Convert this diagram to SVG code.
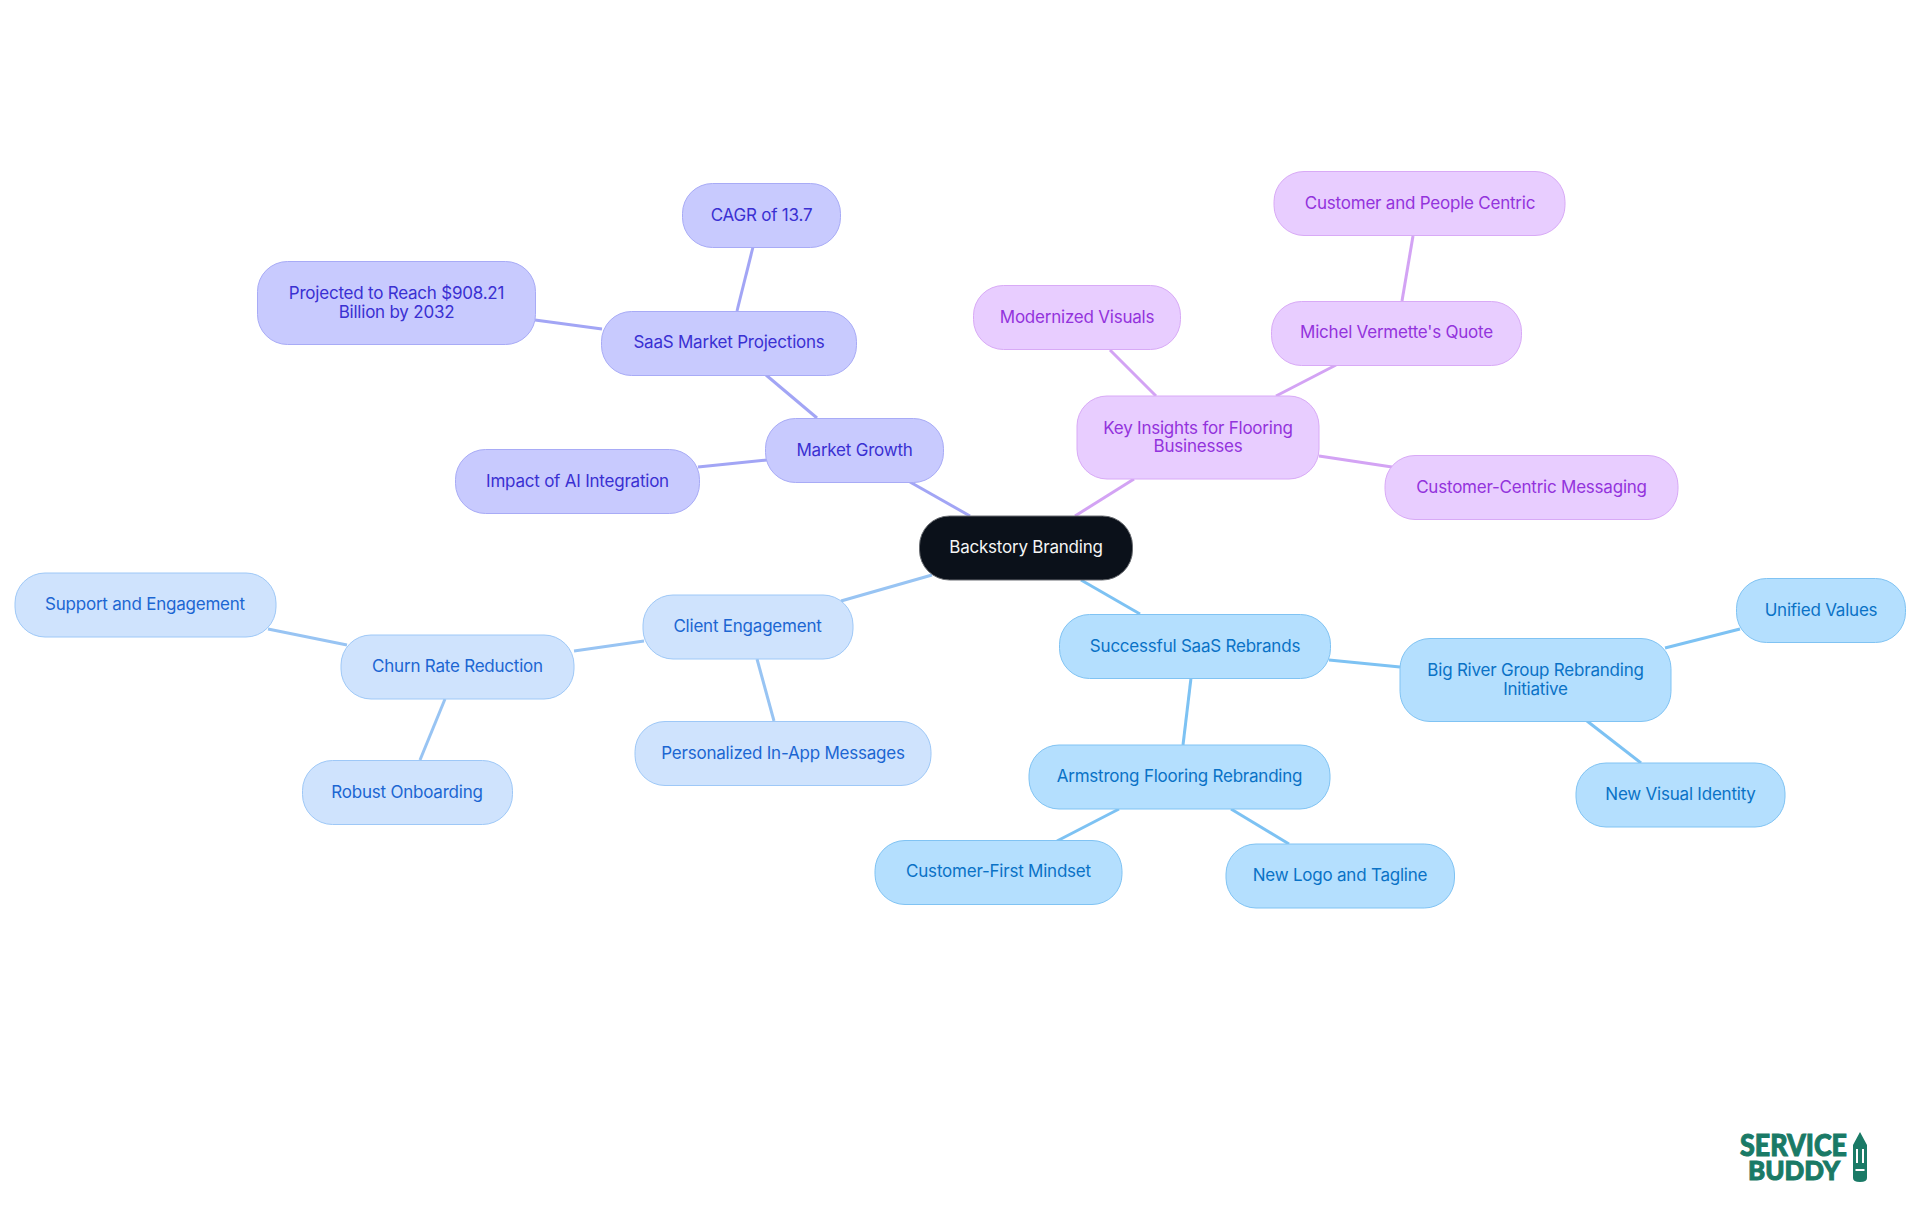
<svg xmlns="http://www.w3.org/2000/svg" width="1920" height="1215" viewBox="0 0 1920 1215">
<style>
text{font-family:Inter,"Noto Sans","Liberation Sans",sans-serif;font-size:17px;letter-spacing:-.22px;text-anchor:middle;dominant-baseline:central}
.node{stroke-width:1}
#connectors line{stroke-width:3}
.i rect{fill:#c8cafe;stroke:#a8abf6}.i text{fill:#3a30d2}
.p rect{fill:#e8cdff;stroke:#d8aaf6}.p text{fill:#9333dc}
.s rect{fill:#b4dffe;stroke:#80c3f3}.s text{fill:#0a72c6}
.b rect{fill:#cfe3fd;stroke:#9ec8f7}.b text{fill:#1c66d2}
.li{stroke:#a2a5f5}.lp{stroke:#d3a3f4}.ls{stroke:#7dc2f3}.lb{stroke:#98c4f3}
text.logo{font-family:"Lato","Liberation Sans",sans-serif;font-weight:900;letter-spacing:0;fill:#1a7a66;stroke:#1a7a66;stroke-width:1;text-anchor:start;dominant-baseline:auto}
text.l1{font-size:30px}
text.l2{font-size:27px}
</style>
<rect width="1920" height="1215" fill="#fff"/>
<g id="connectors">
<line class="li" x1="970" y1="516" x2="910" y2="482"/>
<line class="li" x1="817" y1="418" x2="766" y2="375"/>
<line class="li" x1="767" y1="460" x2="698" y2="467"/>
<line class="li" x1="737" y1="311" x2="753" y2="247"/>
<line class="li" x1="602" y1="329" x2="535" y2="320"/>
<line class="lp" x1="1075" y1="516" x2="1134" y2="479"/>
<line class="lp" x1="1156" y1="396" x2="1110" y2="350"/>
<line class="lp" x1="1276" y1="396" x2="1336" y2="365"/>
<line class="lp" x1="1402" y1="301" x2="1413" y2="236"/>
<line class="lp" x1="1319" y1="456" x2="1392" y2="467"/>
<line class="ls" x1="1081" y1="580" x2="1140" y2="614"/>
<line class="ls" x1="1329" y1="660" x2="1400" y2="667"/>
<line class="ls" x1="1191" y1="678" x2="1183" y2="745"/>
<line class="ls" x1="1665" y1="648" x2="1740" y2="629"/>
<line class="ls" x1="1587" y1="721" x2="1641" y2="763"/>
<line class="ls" x1="1119" y1="809" x2="1057" y2="841"/>
<line class="ls" x1="1231" y1="809" x2="1289" y2="844"/>
<line class="lb" x1="932" y1="575" x2="841" y2="601"/>
<line class="lb" x1="644" y1="641" x2="574" y2="651"/>
<line class="lb" x1="757" y1="659" x2="774" y2="721"/>
<line class="lb" x1="347" y1="645" x2="268" y2="629"/>
<line class="lb" x1="445" y1="699" x2="420" y2="760"/>
</g>
<g id="n-root"><rect class="node" x="919.500" y="516" width="213" height="64" rx="30" fill="#0b111a" stroke="#6a6d72"/><text x="1026" y="547" fill="#f5f5f5">Backstory Branding</text></g>
<g id="n-market" class="i"><rect class="node" x="765.500" y="418.500" width="178" height="64" rx="30"/><text x="854.500" y="450">Market Growth</text></g>
<g id="n-impact" class="i"><rect class="node" x="455.500" y="449.500" width="244" height="64" rx="30"/><text x="577.500" y="481">Impact of AI Integration</text></g>
<g id="n-saas" class="i"><rect class="node" x="601.500" y="311.500" width="255" height="64" rx="30"/><text x="729" y="342">SaaS Market Projections</text></g>
<g id="n-proj" class="i"><rect class="node" x="257.500" y="261.500" width="278" height="83" rx="30"/><text x="396.500" y="293">Projected to Reach $908.21</text><text x="396.500" y="312">Billion by 2032</text></g>
<g id="n-cagr" class="i"><rect class="node" x="682.500" y="183.500" width="158" height="64" rx="30"/><text x="761.500" y="215">CAGR of 13.7</text></g>
<g id="n-key" class="p"><rect class="node" x="1077" y="396" width="242" height="83" rx="30"/><text x="1198" y="428">Key Insights for Flooring</text><text x="1198" y="446">Businesses</text></g>
<g id="n-mod" class="p"><rect class="node" x="973.500" y="285.500" width="207" height="64" rx="30"/><text x="1077" y="317">Modernized Visuals</text></g>
<g id="n-michel" class="p"><rect class="node" x="1271.500" y="301.500" width="250" height="64" rx="30"/><text x="1396.500" y="332">Michel Vermette's Quote</text></g>
<g id="n-people" class="p"><rect class="node" x="1274" y="171.500" width="291" height="64" rx="30"/><text x="1420" y="203">Customer and People Centric</text></g>
<g id="n-centric" class="p"><rect class="node" x="1385" y="455.500" width="293" height="64" rx="30"/><text x="1531.500" y="487">Customer-Centric Messaging</text></g>
<g id="n-success" class="s"><rect class="node" x="1059.500" y="614.500" width="271" height="64" rx="30"/><text x="1195" y="646">Successful SaaS Rebrands</text></g>
<g id="n-bigriver" class="s"><rect class="node" x="1400" y="638.500" width="271" height="83" rx="30"/><text x="1535.500" y="670">Big River Group Rebranding</text><text x="1535.500" y="689">Initiative</text></g>
<g id="n-unified" class="s"><rect class="node" x="1736.500" y="578.500" width="169" height="64" rx="30"/><text x="1821" y="610">Unified Values</text></g>
<g id="n-visual" class="s"><rect class="node" x="1576" y="763" width="209" height="64" rx="30"/><text x="1680.500" y="794">New Visual Identity</text></g>
<g id="n-arm" class="s"><rect class="node" x="1029" y="745" width="301" height="64" rx="30"/><text x="1179.500" y="776">Armstrong Flooring Rebranding</text></g>
<g id="n-first" class="s"><rect class="node" x="875" y="840.500" width="247" height="64" rx="30"/><text x="998.500" y="871">Customer-First Mindset</text></g>
<g id="n-logo" class="s"><rect class="node" x="1226" y="844" width="228.500" height="64" rx="30"/><text x="1340" y="875">New Logo and Tagline</text></g>
<g id="n-client" class="b"><rect class="node" x="643" y="595" width="210" height="64" rx="30"/><text x="747.500" y="626">Client Engagement</text></g>
<g id="n-churn" class="b"><rect class="node" x="341" y="635" width="233" height="64" rx="30"/><text x="457.500" y="666">Churn Rate Reduction</text></g>
<g id="n-support" class="b"><rect class="node" x="15" y="573" width="261" height="64" rx="30"/><text x="145" y="604">Support and Engagement</text></g>
<g id="n-robust" class="b"><rect class="node" x="302.500" y="760.500" width="210" height="64" rx="30"/><text x="407" y="792">Robust Onboarding</text></g>
<g id="n-person" class="b"><rect class="node" x="635" y="721.500" width="296" height="64" rx="30"/><text x="783" y="753">Personalized In-App Messages</text></g>
<g id="logo">
<text class="logo l1" x="1740" y="1156" textLength="107" lengthAdjust="spacingAndGlyphs">SERVICE</text>
<text class="logo l2" x="1748" y="1180" textLength="92" lengthAdjust="spacingAndGlyphs">BUDDY</text>
<path fill="#1a7a66" fill-rule="evenodd" d="M1860 1132l7 13v33q0 4-7 4t-7-4v-33zM1856 1149v14h2v-14zM1862 1149v14h2v-14zM1855.500 1169v2h9v-2z"/>
</g>
</svg>
